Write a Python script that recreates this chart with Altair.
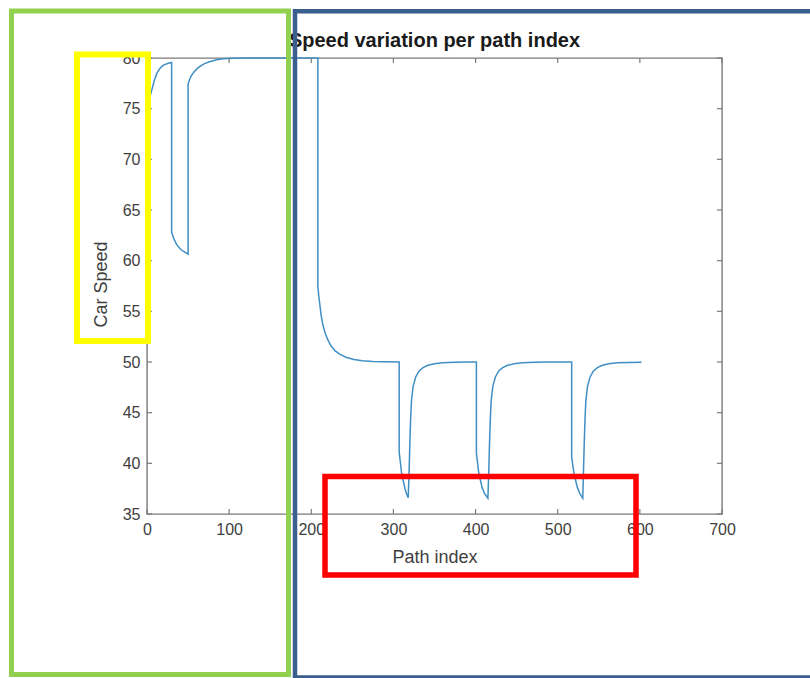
import altair as alt
import pandas as pd

# ---- data ----
path_index = [
    0, 3, 6, 9, 12, 16, 20, 25, 30,
    30, 33, 36, 39, 42, 46, 50,
    50, 52, 54, 57, 61, 65, 70, 77, 85, 93, 105, 120, 208,
    208, 209, 210.5, 212, 214, 217, 220, 224, 229, 235, 243, 252, 262, 275, 290, 307,
    307, 310, 314, 316, 318,
    319, 320, 321, 322, 324, 327, 331, 336, 342, 350, 360, 375, 390, 401,
    401, 404, 408, 411, 415,
    416, 417, 418, 419, 421, 424, 428, 433, 439, 447, 457, 472, 487, 517,
    517, 520, 524, 527, 530.5,
    531.3, 532.3, 533.3, 534.3, 536.3, 539.3, 543.3, 548.3, 554.3, 562.3, 572.3, 587, 602,
]
car_speed = [
    74.8, 76.0, 76.9, 77.8, 78.5, 79.0, 79.3, 79.45, 79.55,
    62.8, 62.1, 61.6, 61.3, 61.05, 60.85, 60.65,
    77.4, 77.9, 78.25, 78.6, 78.95, 79.2, 79.45, 79.65, 79.82, 79.92, 79.98, 80.0, 80.0,
    57.5, 56.6, 55.6, 54.6, 53.7, 52.8, 52.2, 51.6, 51.1, 50.75, 50.45, 50.25, 50.12, 50.05, 50.02, 50.0,
    41.1, 39.0, 37.5, 37.0, 36.6,
    39.0, 42.0, 44.5, 46.2, 47.6, 48.5, 49.1, 49.45, 49.68, 49.83, 49.92, 49.98, 50.0, 50.0,
    41.0, 39.0, 37.6, 37.0, 36.55,
    39.0, 42.0, 44.5, 46.2, 47.6, 48.5, 49.1, 49.45, 49.68, 49.83, 49.92, 49.98, 50.0, 50.0,
    40.6, 38.9, 37.6, 37.0, 36.55,
    39.0, 42.0, 44.5, 46.2, 47.6, 48.5, 49.1, 49.45, 49.68, 49.83, 49.92, 49.96, 49.98,
]
x_ticks = [0, 100, 200, 300, 400, 500, 600, 700]
y_ticks = [35, 40, 45, 50, 55, 60, 65, 70, 75, 80]
title_text = "Speed variation per path index"
x_title = "Path index"
y_title = "Car Speed"

df = pd.DataFrame({"idx": path_index, "speed": car_speed, "ord": list(range(len(path_index)))})
xt = pd.DataFrame({"idx": x_ticks})
yt = pd.DataFrame({"speed": y_ticks})

# ---- style ----
W, H = 575, 456
FONT = "Liberation Sans"
GRAY = "#7a7a7a"
TXT = "#404040"
TICK = 5

xscale = alt.Scale(domain=[0, 700], nice=False, zero=False)
yscale = alt.Scale(domain=[35, 80], nice=False, zero=False)

x_axis = alt.Axis(values=x_ticks, title=x_title, labelFontSize=16, labelColor=TXT,
                  labelFont=FONT, labelPadding=7, labelFlush=False, ticks=False, domain=False,
                  grid=False, titleFontSize=18, titleFont=FONT, titleColor=TXT,
                  titleFontWeight="normal", titleX=W / 2, titleY=48, titleBaseline="alphabetic",
                  titleAlign="center")
y_axis = alt.Axis(values=y_ticks, title=y_title, labelFontSize=16, labelColor=TXT,
                  labelFont=FONT, labelPadding=7, labelFlush=False, ticks=False, domain=False,
                  grid=False, titleFontSize=18, titleFont=FONT, titleColor=TXT,
                  titleFontWeight="normal", titleX=-46, titleY=H / 2 - 2, titleAngle=270,
                  titleBaseline="middle", titleAlign="center")

line = alt.Chart(df).mark_line(color="#3f8fc4", strokeWidth=1.5).encode(
    x=alt.X("idx:Q", scale=xscale, axis=x_axis),
    y=alt.Y("speed:Q", scale=yscale, axis=y_axis),
    order=alt.Order("ord:Q"),
)

tick_style = dict(color=GRAY, strokeWidth=1.2)
bottom_ticks = alt.Chart(xt).mark_rule(**tick_style).encode(
    x=alt.X("idx:Q", scale=xscale, axis=x_axis), y=alt.value(H), y2=alt.value(H - TICK))
top_ticks = alt.Chart(xt).mark_rule(**tick_style).encode(
    x=alt.X("idx:Q", scale=xscale, axis=x_axis), y=alt.value(0), y2=alt.value(TICK))
left_ticks = alt.Chart(yt).mark_rule(**tick_style).encode(
    y=alt.Y("speed:Q", scale=yscale, axis=y_axis), x=alt.value(0), x2=alt.value(TICK))
right_ticks = alt.Chart(yt).mark_rule(**tick_style).encode(
    y=alt.Y("speed:Q", scale=yscale, axis=y_axis), x=alt.value(W), x2=alt.value(W - TICK))

title = alt.Chart(alt.Data(values=[{}])).mark_text(
    text=title_text, font=FONT, fontSize=20, fontWeight="bold", color="#1a1a1a",
    align="center", baseline="alphabetic"
).encode(x=alt.value(W / 2), y=alt.value(-11))

# annotation frames (pixel positions relative to plot origin at 147,58)
OX, OY = 147, 58


def frame(x1, y1, x2, y2, color, sw):
    return alt.Chart(alt.Data(values=[{}])).mark_rect(
        fill="transparent", stroke=color, strokeWidth=sw
    ).encode(x=alt.value(x1 - OX), x2=alt.value(x2 - OX), y=alt.value(y1 - OY), y2=alt.value(y2 - OY))


green = frame(11.5, 11, 288.5, 674.5, "#92D050", 5)
blue = frame(295, 11.3, 830, 677.5, "#3A5F8E", 4.5)
yellow = frame(77, 54.5, 148, 341, "#FFFF00", 6)
red = frame(325, 476.5, 636, 575, "#FF0000", 5.5)

chart = alt.layer(
    line, bottom_ticks, top_ticks, left_ticks, right_ticks, title, green, blue, yellow, red
).properties(
    width=W, height=H,
    background="white",
    padding={"left": OX, "top": OY, "right": 810 - OX - W, "bottom": 678 - OY - H},
    autosize=alt.AutoSizeParams(type="none"),
).configure_view(stroke=GRAY, strokeWidth=1.4)

chart.save("out.html", embed_options={"renderer": "svg", "actions": False})
